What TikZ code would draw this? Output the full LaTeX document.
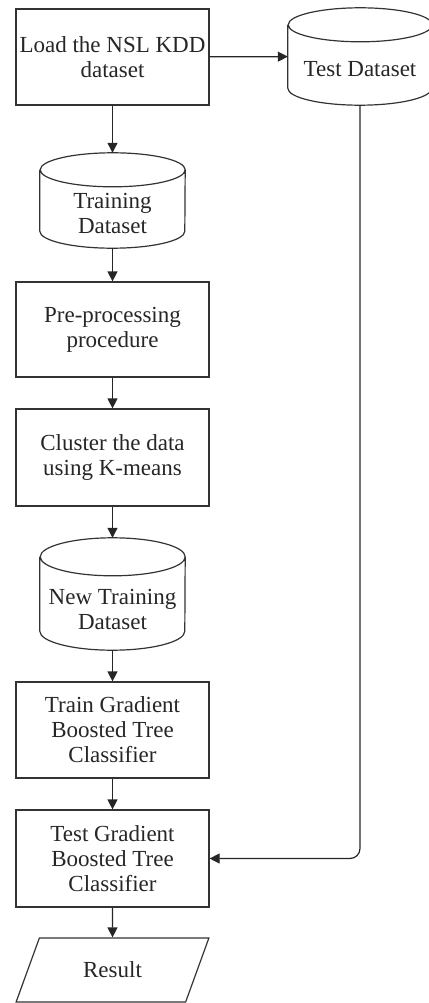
\documentclass[tikz,border=0pt]{standalone}
\usepackage{fontspec}
\setmainfont{Liberation Serif}
\usetikzlibrary{shapes.geometric,arrows.meta,calc}
\begin{document}
\begin{tikzpicture}[x=1pt,y=-1pt,
  lbl/.style={font=\fontsize{23}{25}\selectfont, text=black!85, align=center},
  outline/.style={draw=black!80, line width=1.2pt},
  box/.style={lbl, outline, rectangle, minimum width=193pt, minimum height=96pt, inner sep=0pt},
  db/.style={rectangle, inner sep=0pt},
  io/.style={lbl, outline, trapezium, trapezium left angle=60, trapezium right angle=120, trapezium stretches=true, minimum width=193pt, minimum height=64pt, inner sep=0pt},
  conn/.style={draw=black!85, line width=1.2pt, -{Triangle[width=10pt,length=10pt]}}]
\useasboundingbox (0,0) rectangle (428,1003);
\node[box] (load) at (112.5,57) {Load the NSL KDD\\dataset};
\node[db, minimum width=144pt, minimum height=97pt,
  label={[lbl, name=test-t, yshift=-13pt]center:Test Dataset}] (test) at (360,56.5) {};
\node[db, minimum width=145pt, minimum height=95pt,
  label={[lbl, name=train-t, yshift=-13pt]center:{Training\\Dataset}}] (train) at (112.5,200.5) {};
\node[box, minimum height=95pt] (pre) at (112.5,329.5) {Pre-processing\\procedure};
\node[box, minimum height=97pt] (cluster) at (112.5,457.5) {Cluster the data\\using K-means};
\node[db, minimum width=145pt, minimum height=112pt,
  label={[lbl, name=newtrain-t, yshift=-15pt]center:{New Training\\Dataset}}] (newtrain) at (112.5,594) {};
\node[box] (trainclf) at (112.5,730) {Train Gradient\\Boosted Tree\\Classifier};
\node[box, minimum height=97pt] (testclf) at (112.5,858.5) {Test Gradient\\Boosted Tree\\Classifier};
\node[io] (result) at (112.5,970) {Result};
% cylinder outlines
\foreach \n/\rx/\ry in {test/72/17, train/72.5/17, newtrain/72.5/19}{
  \draw[outline] ($(\n.north west)+(0,\ry)$) -- ($(\n.south west)+(0,-\ry)$)
    arc[start angle=180, end angle=0, x radius=\rx, y radius=\ry]
    -- ($(\n.north east)+(0,\ry)$)
    arc[start angle=0, end angle=-180, x radius=\rx, y radius=\ry]
    arc[start angle=180, end angle=0, x radius=\rx, y radius=\ry];
}
\draw[conn] (load) -- (test);
\draw[conn] (load) -- (train);
\draw[conn] (train) -- (pre);
\draw[conn] (pre) -- (cluster);
\draw[conn] (cluster) -- (newtrain);
\draw[conn] (newtrain) -- (trainclf);
\draw[conn] (trainclf) -- (testclf);
\draw[conn] (testclf) -- (result);
\draw[conn, rounded corners=10pt] (test.south) |- (testclf.east);
\end{tikzpicture}
\end{document}
